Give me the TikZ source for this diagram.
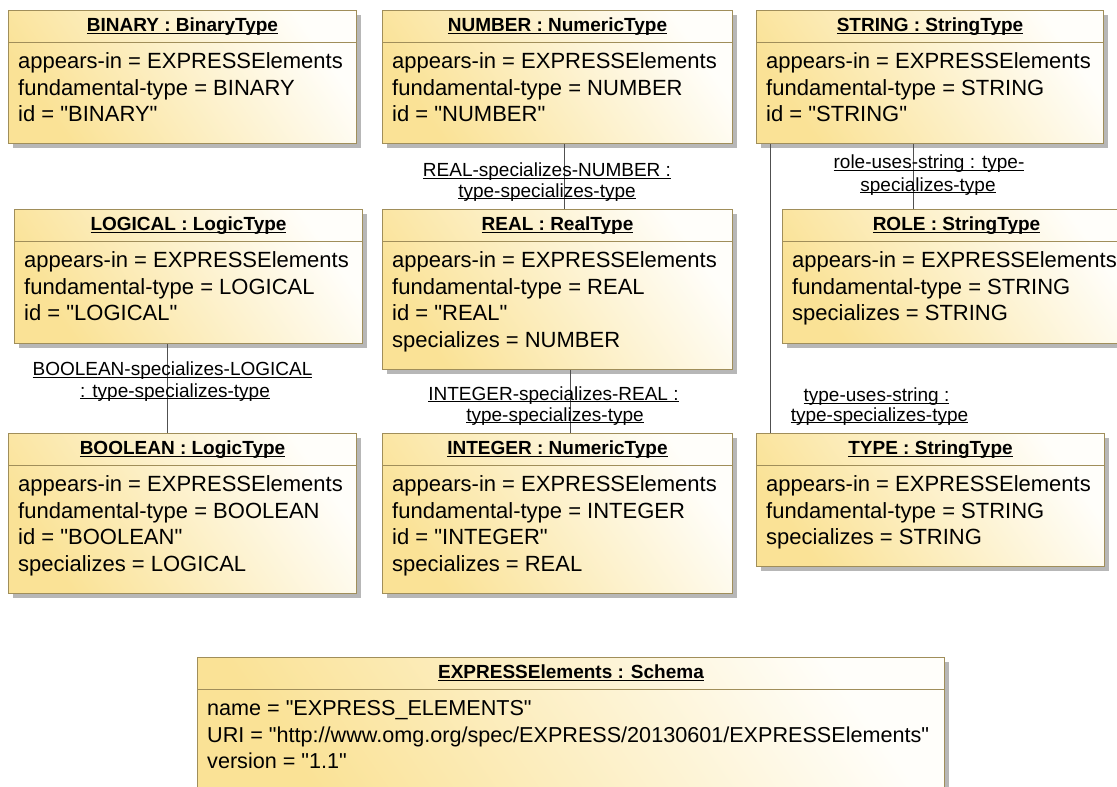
\documentclass[tikz,border=0pt]{standalone}
\usepackage{fontspec}
\setmainfont{Liberation Sans}[Ligatures=TeXOff]
\usetikzlibrary{shadows}
\definecolor{objY}{RGB}{250,226,150}
\definecolor{objW}{RGB}{255,254,250}
\definecolor{objB}{RGB}{160,142,90}
\definecolor{connC}{RGB}{80,80,80}
\newcommand\ulin[1]{\setbox0\hbox{#1}\rlap{\rule[-1.9pt]{\wd0}{0.9pt}}\box0}
\tikzset{
  objbox/.style={draw=objB, line width=1pt, bottom color=objY, top color=objW,
    shading angle=-55, inner sep=0pt,
    drop shadow={shadow xshift=4pt, shadow yshift=-4pt, fill=black!40, opacity=0.7}},
  sepline/.style={draw=objB, line width=1pt},
  hdrtxt/.style={inner sep=0pt, font=\fontsize{19}{22}\selectfont\bfseries},
  bodytxt/.style={inner sep=0pt, font=\fontsize{22}{26}\selectfont},
  lbltxt/.style={inner sep=0pt, font=\fontsize{19}{21}\selectfont},
  conn/.style={draw=connC, line width=1pt},
}
% name, x, top, width, height, header, body lines
\newcommand\umlobj[7]{%
  \node[objbox, minimum width=#4pt, minimum height=#5pt, anchor=north west] (#1) at (#2,#3) {};
  \draw[sepline] ([yshift=-32pt]#1.north west) -- ([yshift=-32pt]#1.north east);
  \node[hdrtxt, anchor=base] (#1-h) at ([yshift=-21.7pt]#1.north) {\ulin{#6}};
  \foreach \l [count=\i] in {#7} {
    \node[bodytxt, anchor=base west] (#1-l\i) at ([xshift=10pt, yshift={-(58.3+(\i-1)*26.7)*1pt}]#1.north west) {\l};
  }%
}
\begin{document}
\begin{tikzpicture}[x=1pt, y=-1pt]
\useasboundingbox (0,0) rectangle (1117,787);
\fill[white] (0,0) rectangle (1117,787);

\umlobj{BINARY}{8}{10}{348}{133}{BINARY : BinaryType}{appears-in = EXPRESSElements, fundamental-type = BINARY, id = "BINARY"}
\umlobj{NUMBER}{382}{10}{350}{133}{NUMBER : NumericType}{appears-in = EXPRESSElements, fundamental-type = NUMBER, id = "NUMBER"}
\umlobj{STRING}{756}{10}{347}{133}{STRING : StringType}{appears-in = EXPRESSElements, fundamental-type = STRING, id = "STRING"}

\umlobj{LOGICAL}{14}{209}{348}{134}{LOGICAL : LogicType}{appears-in = EXPRESSElements, fundamental-type = LOGICAL, id = "LOGICAL"}
\umlobj{REAL}{382}{209}{350}{160}{REAL : RealType}{appears-in = EXPRESSElements, fundamental-type = REAL, id = "REAL", specializes = NUMBER}
\umlobj{ROLE}{782}{209}{348}{134}{ROLE : StringType}{appears-in = EXPRESSElements, fundamental-type = STRING, specializes = STRING}

\umlobj{BOOLEAN}{8}{433}{348}{160}{BOOLEAN : LogicType}{appears-in = EXPRESSElements, fundamental-type = BOOLEAN, id = "BOOLEAN", specializes = LOGICAL}
\umlobj{INTEGER}{382}{433}{350}{160}{INTEGER : NumericType}{appears-in = EXPRESSElements, fundamental-type = INTEGER, id = "INTEGER", specializes = REAL}
\umlobj{TYPE}{756}{433}{348}{133}{TYPE : StringType}{appears-in = EXPRESSElements, fundamental-type = STRING, specializes = STRING}

\begin{scope}[bodytxt/.append style={font=\fontsize{21.6}{26}\selectfont}]
\umlobj{EXPR}{197}{657}{747}{134}{EXPRESSElements : Schema}{name = "EXPRESS\_ELEMENTS", URI = "http://www.omg.org/spec/EXPRESS/20130601/EXPRESSElements", version = "1.1"}
\end{scope}

% connectors
\draw[conn] ([xshift=7pt]NUMBER.south) -- ([xshift=7pt]REAL.north);
\draw[conn] ([xshift=13pt]REAL.south) -- ([xshift=13pt]INTEGER.north);
\draw[conn] ([xshift=-21pt]LOGICAL.south) -- ([xshift=-15pt]BOOLEAN.north);
\draw[conn] ([xshift=-16.5pt]STRING.south) -- ([xshift=-43pt]ROLE.north);
\draw[conn] ([xshift=-159.5pt]STRING.south) -- ([xshift=-160pt]TYPE.north);

% connector labels
\node[lbltxt, anchor=base] (lRN1) at (547,176.5) {\ulin{REAL-specializes-NUMBER :}};
\node[lbltxt, anchor=base] (lRN2) at (547,197) {\ulin{type-specializes-type}};
\node[lbltxt, anchor=base] (lIR1) at (553.5,400) {\ulin{INTEGER-specializes-REAL :}};
\node[lbltxt, anchor=base] (lIR2) at (555,421) {\ulin{type-specializes-type}};
\node[lbltxt, anchor=base] (lBL1) at (172.5,375.5) {\ulin{BOOLEAN-specializes-LOGICAL}};
\node[lbltxt, anchor=base] (lBL2) at (175,397) {\ulin{: type-specializes-type}};
\node[lbltxt, anchor=base] (lRS1) at (929,168.5) {\ulin{role-uses-string : type-}};
\node[lbltxt, anchor=base] (lRS2) at (928,191) {\ulin{specializes-type}};
\node[lbltxt, anchor=base] (lTS1) at (876.5,401.5) {\ulin{type-uses-string :}};
\node[lbltxt, anchor=base] (lTS2) at (879.5,421) {\ulin{type-specializes-type}};
\end{tikzpicture}
\end{document}
